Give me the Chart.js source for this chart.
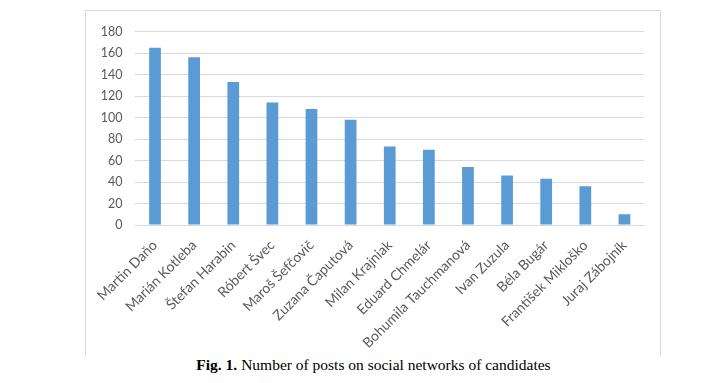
<!DOCTYPE html>
<html>
<head>
<meta charset="utf-8">
<script src="https://cdn.jsdelivr.net/npm/chart.js@4"></script>
<style>
  html, body { margin: 0; padding: 0; background: #fff; width: 715px; height: 383px; overflow: hidden; }
  #frame { position: absolute; left: 85px; top: 10px; width: 574px; height: 345px;
           border-left: 1px solid #d9d9d9; border-top: 1px solid #d9d9d9; border-right: 1px solid #d9d9d9; }
  #wrap { position: absolute; left: 0; top: 0; width: 574px; height: 345px; }
  #caption { position: absolute; left: 0; width: 715px; top: 356px; text-align: center;
             font-family: "Liberation Serif", "Times New Roman", serif; font-size: 15.5px; color: #000; padding-left: 32px; box-sizing: border-box; }
</style>
</head>
<body>
<div id="frame"><div id="wrap"><canvas id="c"></canvas></div></div>
<div id="caption"><b>Fig. 1.</b> Number of posts on social networks of candidates</div>
<script>
const categories = ["Martin Daňo", "Marián Kotleba", "Štefan Harabin", "Róbert Švec", "Maroš Šefčovič",
  "Zuzana Čaputová", "Milan Krajniak", "Eduard Chmelár", "Bohumila Tauchmanová", "Ivan Zuzula",
  "Béla Bugár", "František Mikloško", "Juraj Zábojník"];
const posts = [165, 156, 133, 114, 108, 98, 73, 70, 54, 46, 43, 36, 10];
const yTicks = [0, 20, 40, 60, 80, 100, 120, 140, 160, 180];

new Chart(document.getElementById('c'), {
  type: 'bar',
  data: {
    labels: categories,
    datasets: [{ data: posts, backgroundColor: '#5b9bd5', categoryPercentage: 1, barPercentage: 0.3 }]
  },
  options: {
    responsive: true, maintainAspectRatio: false, animation: false,
    layout: { padding: { top: 18, right: 16, left: 0, bottom: 0 } },
    plugins: { legend: { display: false }, tooltip: { enabled: false } },
    scales: {
      x: {
        grid: { display: false, drawTicks: false },
        border: { display: true, color: '#d9d9d9' },
        ticks: { color: '#595959', font: { family: 'Lato', size: 14 }, maxRotation: 45, minRotation: 45, padding: 12, autoSkip: false },
        afterFit: s => { s.height = 131; }
      },
      y: {
        min: 0, max: 180,
        afterBuildTicks: s => { s.ticks = yTicks.map(v => ({ value: v })); },
        grid: { color: '#d9d9d9', drawTicks: false },
        border: { display: false },
        ticks: { color: '#595959', font: { family: 'Lato', size: 12.5 }, padding: 13 },
        afterFit: s => { s.width = 48; }
      }
    }
  }
});
</script>
</body>
</html>
